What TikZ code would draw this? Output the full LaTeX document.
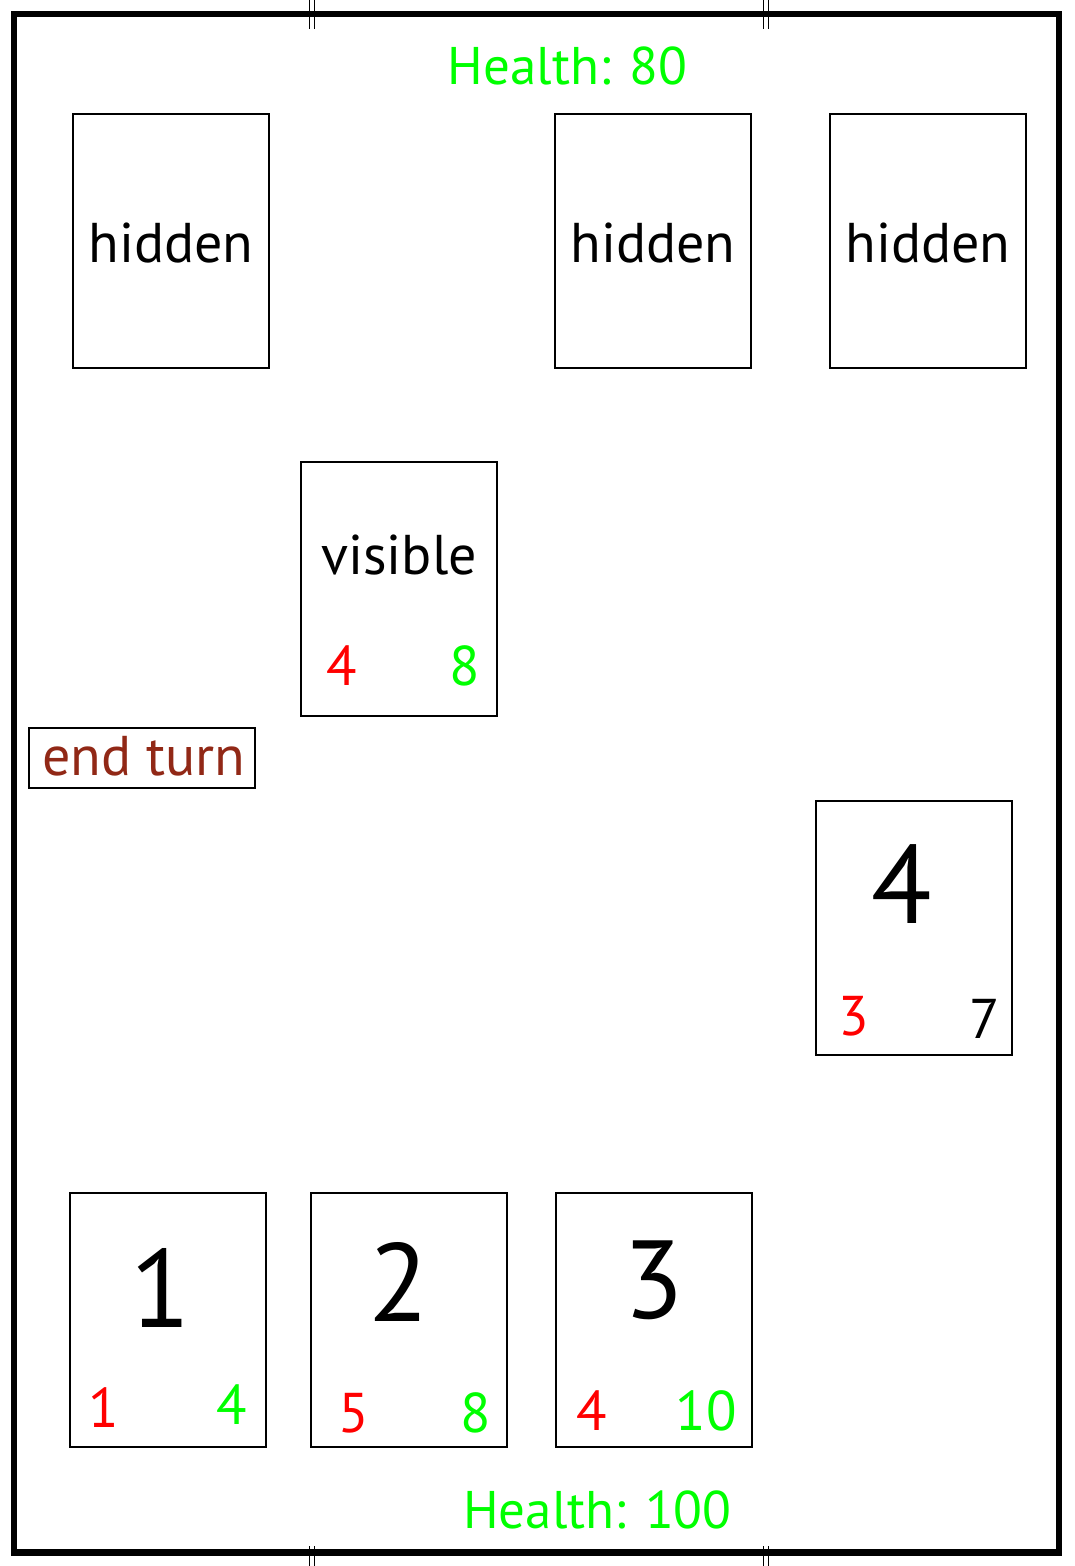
\documentclass[tikz,border=0pt]{standalone}
\usepackage{fontspec}
\setmainfont{PT Sans}
\definecolor{hpgreen}{RGB}{0,255,0}
\definecolor{atkred}{RGB}{255,0,0}
\definecolor{btnred}{RGB}{145,40,22}
\begin{document}
\begin{tikzpicture}[x=1pt, y=-1pt,
    card/.style = {draw, line width=2pt, minimum width=196pt, minimum height=254pt, inner sep=0pt},
    word/.style = {anchor=base, inner sep=0pt, font=\fontsize{56}{60}\selectfont},
    healthtext/.style = {anchor=base, inner sep=0pt, text=hpgreen, font=\fontsize{53}{58}\selectfont},
    bignum/.style = {anchor=base, inner sep=0pt, font=\fontsize{111}{115}\selectfont}]
  \useasboundingbox (0,0) rectangle (1074,1566);
  \draw[line width=6.5pt] (14,14) rectangle (1059,1552.5);
  \foreach \x in {309.5,314.5,763.5,768.5} {
    \draw[line width=1pt] (\x,0) -- (\x,29);
    \draw[line width=1pt] (\x,1546) -- (\x,1566);
  }

  % opponent
  \node[healthtext] (opphealth) at (567.5,84) {Health: 80};
  \foreach \x [count=\i] in {171,653,928} {
    \node[card] (hidden\i) at (\x,241) {};
    \node[word] (hiddentext\i) at (\x,262) {hidden};
  }
  \node[card] (visible) at (399,589) {};
  \node[word] (visibletext) at (399,574) {visible};
  \node[word, text=atkred] (visatk) at (341.5,685) {4};
  \node[word, text=hpgreen] (vishp) at (464.5,685) {8};

  \node[draw, line width=2pt, minimum width=226pt, minimum height=60pt] (endturnbox) at (142.3,757.7) {};
  \node[word, text=btnred] (endturn) at (144,775) {end turn};

  % played card
  \node[card] (card4) at (914,928) {};
  \node[bignum] (card4num) at (901.5,923) {4};
  \node[word, text=atkred] (card4atk) at (853.5,1035) {3};
  \node[word] (card4hp) at (984.5,1038) {7};

  % hand
  \foreach \x/\n [count=\i] in {168/1,409/2,654/3}
    \node[card] (hand\i) at (\x,1320) {};
  \node[bignum] (hand1num) at (161,1327.5) {1};
  \node[bignum] (hand2num) at (399,1321.5) {2};
  \node[bignum] (hand3num) at (653.5,1318) {3};
  \node[word, text=atkred] (hand1atk) at (103.5,1427.5) {1};
  \node[word, text=hpgreen] (hand1hp) at (231.5,1424) {4};
  \node[word, text=atkred] (hand2atk) at (354,1432) {5};
  \node[word, text=hpgreen] (hand2hp) at (476,1432) {8};
  \node[word, text=atkred] (hand3atk) at (592,1430.5) {4};
  \node[word, text=hpgreen] (hand3hp) at (706,1430.5) {10};

  \node[healthtext] (myhealth) at (597.5,1528.3) {Health: 100};
\end{tikzpicture}
\end{document}
